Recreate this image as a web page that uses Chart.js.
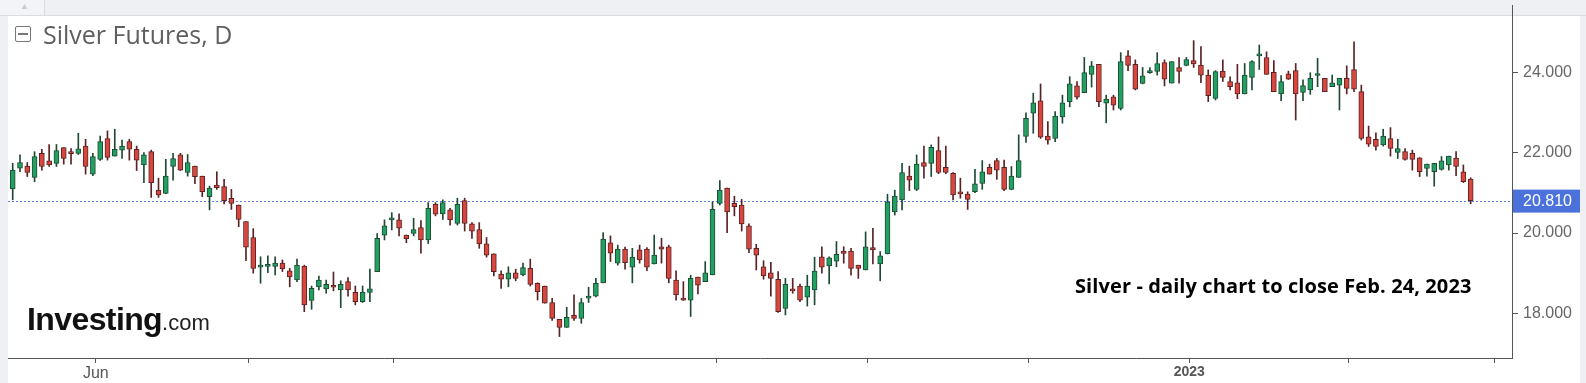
<!DOCTYPE html>
<html><head><meta charset="utf-8">
<script src="https://cdn.jsdelivr.net/npm/chart.js@4.4.0/dist/chart.umd.min.js"></script>
<style>
html,body{margin:0;padding:0;}
body{width:1586px;height:383px;background:#eef0f4;position:relative;overflow:hidden;font-family:"Liberation Sans",Arial,sans-serif;}
#topline{position:absolute;left:0;top:15px;width:1586px;height:1px;background:#d9dce3;}
#tab{position:absolute;left:0;top:0;width:44px;height:15px;background:#f3f4f7;border-right:1px solid #d9dce3;}
#tab span{position:absolute;left:20px;top:1px;font-size:9px;color:#c9ccd3;}
#panel{position:absolute;left:8px;top:16px;width:1572px;height:367px;background:#fff;}
#cv{position:absolute;left:0;top:0;}
#title{position:absolute;left:43px;top:19px;font-family:"Open Sans",sans-serif;font-size:25px;line-height:30px;color:#5f5f5f;white-space:nowrap;}
#icon{position:absolute;left:15px;top:26px;width:14px;height:14px;border:1.5px solid #777;border-radius:2px;}
#icon:after{content:"";position:absolute;left:2px;right:2px;top:6px;height:1.5px;background:#777;}
#logo{position:absolute;left:27px;top:300px;white-space:nowrap;color:#111;line-height:38px;}
#logo b{font-family:"Liberation Sans",Arial,sans-serif;font-weight:bold;font-size:32px;letter-spacing:-0.6px;}
#logo span{font-family:"Liberation Sans",Arial,sans-serif;font-size:22px;color:#222;}
#note{position:absolute;left:1075px;top:273px;font-family:"Open Sans",sans-serif;font-weight:bold;font-size:20px;letter-spacing:0.1px;line-height:26px;color:#000;white-space:nowrap;}
</style>
</head><body>
<div id="topline"></div>
<div id="tab"><span>▲</span></div>
<div id="panel"></div>
<canvas id="cv" width="1586" height="383"></canvas>
<div id="icon"></div>
<div id="title">Silver Futures, D</div>
<div id="logo"><b>Investing</b><span>.com</span></div>
<div id="note">Silver - daily chart to close Feb. 24, 2023</div>
<script>
// ---- Data: daily OHLC, Silver Futures ----
const openPrices = [21.10,21.62,21.67,21.39,21.99,21.80,21.74,22.13,21.99,21.99,22.17,21.47,21.84,22.36,21.92,22.07,22.28,22.09,21.70,22.03,
21.07,20.99,21.66,21.95,21.51,21.67,21.42,20.91,21.20,21.16,20.87,20.70,20.29,19.89,19.15,19.17,19.17,19.25,19.06,18.83,
19.18,18.32,18.66,18.61,18.68,18.58,18.79,18.52,18.29,18.52,19.04,19.95,20.33,20.33,19.95,19.99,20.14,19.83,20.72,20.48,
20.58,20.24,20.81,20.23,20.09,19.73,19.48,18.98,18.85,19.01,18.96,19.12,18.75,18.68,18.27,17.85,17.65,17.95,17.87,18.38,
18.43,18.76,19.76,19.25,19.60,19.15,19.58,19.60,19.23,19.66,19.66,18.83,18.35,18.33,18.90,18.79,18.96,20.74,21.12,20.74,
20.70,20.18,19.62,19.16,19.01,18.85,18.12,18.60,18.68,18.40,18.58,19.41,19.18,19.30,19.55,19.55,19.20,19.08,19.64,19.23,
19.48,20.53,20.83,21.42,21.09,21.76,21.74,22.06,21.64,21.49,21.01,20.97,21.03,21.24,21.64,21.81,21.64,21.09,21.39,22.41,
22.99,23.30,22.42,22.36,22.90,23.28,23.67,23.50,23.96,24.21,23.24,23.40,23.11,24.42,24.21,23.73,24.00,24.03,24.25,23.74,
24.13,24.18,24.30,24.19,23.94,23.36,24.04,23.78,23.75,23.47,23.88,24.42,24.38,24.01,23.47,23.97,24.05,23.51,23.57,23.93,
23.86,23.65,23.69,23.86,24.08,23.53,22.40,22.34,22.20,22.36,22.01,22.03,21.99,21.88,21.61,21.53,21.59,21.70,21.87,21.53,
21.35];
const highPrices = [21.74,21.95,21.76,22.03,22.09,22.21,22.21,22.13,22.11,22.49,22.34,21.99,22.42,22.55,22.59,22.32,22.34,22.17,22.01,22.07,
21.37,21.84,21.99,21.99,21.96,21.67,21.42,21.17,21.53,21.34,21.09,20.70,20.29,20.11,19.41,19.43,19.41,19.33,19.12,19.35,
19.20,18.68,18.93,18.83,19.03,18.81,18.89,18.68,18.68,19.10,19.99,20.33,20.51,20.48,19.95,20.37,20.31,20.76,20.76,20.83,
20.62,20.87,20.87,20.26,20.26,19.89,19.48,19.06,19.16,19.10,19.25,19.35,18.76,18.68,18.37,17.85,18.15,18.46,18.37,18.65,
18.87,20.01,19.93,19.70,19.65,19.62,19.70,19.64,19.95,19.87,19.70,19.06,18.79,18.95,18.90,19.29,20.78,21.31,21.12,20.92,
20.84,20.23,19.72,19.31,19.27,19.04,18.87,18.87,18.73,18.95,19.40,19.66,19.41,19.79,19.66,19.62,19.20,20.03,20.12,19.54,
20.97,21.07,21.74,21.67,21.95,22.17,22.20,22.40,22.17,21.51,21.37,21.03,21.59,21.81,21.72,21.86,21.82,21.66,22.45,23.00,
23.49,23.72,22.78,23.03,23.44,23.90,23.78,24.38,24.28,24.21,23.44,23.44,24.50,24.55,24.32,24.13,24.13,24.50,24.32,24.28,
24.38,24.38,24.80,24.65,24.07,24.05,24.32,23.90,24.21,24.23,24.30,24.69,24.52,24.30,23.93,24.04,24.23,23.82,24.00,24.36,
23.86,23.94,23.86,24.17,24.77,23.69,22.67,22.50,22.59,22.63,22.34,22.11,22.07,21.88,21.72,21.74,21.91,21.92,22.03,21.70,
21.38];
const lowPrices = [20.83,21.53,21.41,21.28,21.57,21.66,21.66,21.72,21.72,21.96,21.47,21.43,21.81,21.82,21.92,21.86,21.82,21.56,21.26,20.89,
20.89,20.98,21.32,21.56,21.42,21.23,20.91,20.58,21.09,20.73,20.59,20.16,19.31,19.00,18.75,19.01,18.96,19.04,18.66,18.79,
18.04,18.10,18.58,18.50,18.56,18.14,18.43,18.21,18.27,18.29,19.04,19.83,20.08,19.93,19.76,19.93,19.50,19.74,20.43,20.34,
20.20,20.20,20.05,19.87,19.62,19.40,18.93,18.62,18.66,18.81,18.93,18.68,18.33,18.25,17.82,17.42,17.65,17.82,17.75,18.27,
18.41,18.76,19.29,19.20,19.10,18.76,19.25,19.06,19.23,19.25,18.76,18.33,18.32,17.92,18.48,18.79,18.96,20.70,20.01,20.43,
20.05,19.51,19.08,18.85,18.43,18.02,17.96,18.50,18.29,18.18,18.21,19.00,18.73,19.16,19.25,18.95,18.87,19.08,19.23,18.81,
19.48,20.45,20.58,21.06,21.06,21.37,21.41,21.48,21.48,20.83,20.87,20.59,21.01,21.09,21.47,21.34,21.06,21.08,21.39,22.26,
22.49,22.36,22.22,22.28,22.74,23.15,23.34,23.50,23.64,23.15,22.75,23.07,23.07,24.05,23.57,23.72,23.98,23.94,23.67,23.74,
23.74,24.17,24.13,23.75,23.28,23.32,23.78,23.57,23.35,23.47,23.57,24.08,23.96,23.53,23.30,23.83,22.82,23.30,23.46,23.65,
23.53,23.65,23.07,23.47,23.53,22.32,22.16,22.07,22.17,21.92,21.86,21.82,21.57,21.41,21.42,21.17,21.57,21.57,21.43,21.26,
20.73];
const closePrices = [21.57,21.76,21.51,21.91,21.66,21.70,22.06,21.86,21.98,22.10,21.66,21.91,22.28,21.89,22.09,22.17,22.09,21.82,21.95,21.26,
20.95,21.42,21.86,21.57,21.76,21.41,21.03,21.12,21.13,20.81,20.74,20.34,19.65,19.12,19.18,19.18,19.25,19.11,18.91,19.20,
18.21,18.62,18.83,18.72,18.65,18.72,18.58,18.29,18.52,18.61,19.87,20.18,20.37,20.12,19.86,20.09,19.83,20.62,20.47,20.76,
20.33,20.72,20.24,20.05,19.73,19.45,19.04,18.85,19.01,18.87,19.14,18.72,18.54,18.25,17.87,17.65,17.90,17.87,18.27,18.42,
18.75,19.85,19.50,19.60,19.26,19.40,19.33,19.15,19.45,19.60,18.87,18.46,18.33,18.87,18.70,19.01,20.59,21.07,20.53,20.66,
20.23,19.60,19.45,18.93,18.87,18.04,18.72,18.56,18.33,18.68,19.05,19.15,19.38,19.47,19.49,19.12,19.12,19.66,19.58,19.43,
20.78,20.92,21.51,21.32,21.72,21.66,22.14,21.51,21.51,20.95,20.98,20.84,21.23,21.53,21.47,21.57,21.09,21.42,21.81,22.86,
23.25,22.39,22.32,22.92,23.25,23.72,23.39,24.00,24.17,23.28,23.34,23.19,24.28,24.18,23.59,23.92,24.04,24.23,23.84,24.28,
24.03,24.33,24.22,23.94,23.43,24.03,23.88,23.65,23.47,23.94,24.28,24.47,23.96,23.53,23.78,23.84,23.47,23.68,23.86,23.95,
23.53,23.75,23.86,23.61,23.59,22.36,22.22,22.16,22.42,22.11,22.11,21.84,21.84,21.53,21.72,21.74,21.80,21.92,21.66,21.28,
20.81];
// x-axis: month boundaries (in candle-index units) and their labels
const monthTickIndex = [11.4, 32.3, 52.2, 96.6, 117.3, 139.4, 161.4, 183.2, 203.3];
const monthTickLabels = ['Jun', '', '', '', '', '', '2023', '', ''];
// y-axis tick values
const priceTicks = [18, 20, 22, 24];

const UP_FILL = '#22a062', UP_LINE = '#1e4a34';
const DN_FILL = '#d8473f', DN_LINE = '#5a2222';
const isUp = i => closePrices[i] >= openPrices[i];

const bodyData = openPrices.map((o, i) => ({x: i, y: [o, closePrices[i]]}));
const wickData = highPrices.map((h, i) => ({x: i, y: [lowPrices[i], h]}));
const lastClose = closePrices[closePrices.length - 1];

const lastPricePlugin = {
  id: 'lastPrice',
  beforeDatasetsDraw(chart) {
    const {ctx, chartArea, scales} = chart;
    const y = Math.round(scales.y.getPixelForValue(lastClose)) + 0.5;
    ctx.save();
    ctx.strokeStyle = '#5b80e4';
    ctx.lineWidth = 1;
    ctx.setLineDash([2, 2]);
    ctx.beginPath();
    ctx.moveTo(chartArea.left, y);
    ctx.lineTo(chartArea.right, y);
    ctx.stroke();
    ctx.restore();
  },
  afterDraw(chart) {
    const {ctx, chartArea, scales} = chart;
    // extend the price-axis line into the header strip, as in the original
    const ax = Math.round(chartArea.right) + 0.5;
    ctx.save();
    ctx.strokeStyle = '#555';
    ctx.lineWidth = 1;
    ctx.beginPath();
    ctx.moveTo(ax, chartArea.top - 11);
    ctx.lineTo(ax, chartArea.top);
    ctx.stroke();
    const y = scales.y.getPixelForValue(lastClose);
    ctx.fillStyle = '#4a72da';
    ctx.fillRect(chartArea.right + 1, y - 11, 67, 23);
    ctx.fillStyle = '#ffffff';
    ctx.font = '16px "Liberation Sans", Arial, sans-serif';
    ctx.textBaseline = 'middle';
    ctx.fillText(lastClose.toFixed(3), chartArea.right + 11, y + 1);
    ctx.restore();
  }
};

new Chart(document.getElementById('cv'), {
  type: 'bar',
  data: {
    datasets: [
      {
        label: 'body', data: bodyData, grouped: false, order: 1,
        barThickness: 5, minBarLength: 2, borderWidth: 1, borderSkipped: false,
        backgroundColor: c => isUp(c.dataIndex) ? UP_FILL : DN_FILL,
        borderColor: c => isUp(c.dataIndex) ? UP_LINE : DN_LINE
      },
      {
        label: 'wick', data: wickData, grouped: false, order: 2,
        barThickness: 1, borderWidth: 0,
        backgroundColor: c => isUp(c.dataIndex) ? UP_LINE : DN_LINE
      }
    ]
  },
  options: {
    responsive: false, animation: false, devicePixelRatio: 1,
    layout: {padding: {left: 8, top: 16, right: 0, bottom: 0}},
    plugins: {legend: {display: false}, tooltip: {enabled: false}},
    scales: {
      x: {
        type: 'linear', min: -0.645, max: 205.67, offset: false,
        afterBuildTicks: s => { s.ticks = monthTickIndex.map(v => ({value: v})); },
        afterFit: s => { s.height = 25; },
        ticks: {
          autoSkip: false, maxRotation: 0, padding: 1, color: '#555',
          callback: (v, i) => monthTickLabels[i],
          font: c => (c.tick && c.tick.label === '2023')
            ? {family: '"Liberation Sans", Arial, sans-serif', size: 14, weight: 'bold'}
            : {family: '"Liberation Sans", Arial, sans-serif', size: 16}
        },
        grid: {drawOnChartArea: false, offset: false, tickLength: 5, color: '#555'},
        border: {color: '#555', width: 1}
      },
      y: {
        position: 'right', min: 16.885, max: 25.414,
        afterBuildTicks: s => { s.ticks = priceTicks.map(v => ({value: v})); },
        afterFit: s => { s.width = 74; },
        ticks: {
          color: '#666', padding: 5,
          font: {family: '"Liberation Sans", Arial, sans-serif', size: 16},
          callback: v => Number(v).toFixed(3)
        },
        grid: {drawOnChartArea: false, offset: false, tickLength: 6, color: '#555'},
        border: {color: '#555', width: 1}
      }
    }
  },
  plugins: [lastPricePlugin]
});
</script>
</body></html>
